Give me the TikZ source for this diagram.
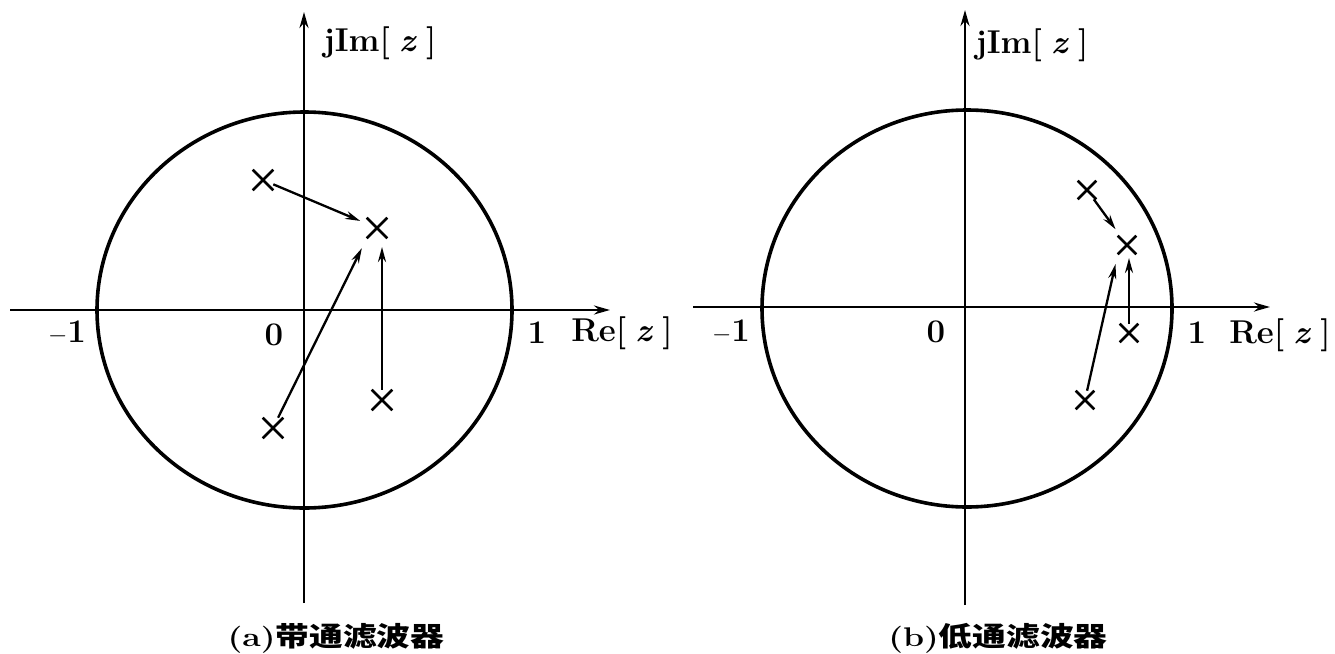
\documentclass[tikz,border=0pt]{standalone}
\usepackage{fontspec}
\newfontfamily\cjk{Noto Sans CJK SC}
\usetikzlibrary{arrows.meta,shapes.misc}
\begin{document}
\begin{tikzpicture}[x=1pt,y=-1pt,
  axis/.style={line width=2.6pt,-{Stealth[length=16pt,width=9pt]}},
  unit/.style={line width=3.6pt},
  pole/.style={cross out,draw,line width=2.6pt,minimum size=18pt,inner sep=0pt},
  poleb/.style={pole,minimum size=16pt},
  mv/.style={line width=2.3pt,-{Stealth[length=15pt,width=8pt]}},
  lbl/.style={font=\fontsize{33}{35}\selectfont\bfseries,inner sep=0pt},
  captxt/.style={font=\fontsize{27}{30}\selectfont\bfseries,inner sep=0pt}]
\useasboundingbox (0,0) rectangle (1335,653);
\fill[white] (0,0) rectangle (1335,653);

% ---------- (a) band-pass ----------
\coordinate (aW) at (10,310);
\coordinate (aE) at (610,310);
\coordinate (aS) at (304,603);
\coordinate (aN) at (304,12);
\draw[axis] (aW) -- (aE);
\draw[axis] (aS) -- (aN);
\draw[unit] (304.5,310) ellipse [x radius=207.5, y radius=198];

\node[pole] (a1) at (263,180) {};
\node[pole] (a2) at (377,228) {};
\node[pole] (a3) at (382,400) {};
\node[pole] (a4) at (273,428) {};
\draw[mv,shorten >=7pt] (a1) -- (a2);
\draw[mv,shorten >=11pt] (a4) -- (a2.south west);
\draw[mv,shorten >=19pt] (a3) -- (a3 |- a2);

\node[lbl] (am1) at (67,333) {$-$1};
\node[lbl] (a0) at (274,335) {0};
\node[lbl] (ap1) at (537,333) {1};
\node[lbl] (are) at (622,333) {Re[\;\textit{z}\;]};
\node[lbl] (aim) at (380,43) {jIm[\;\textit{z}\;]};
\node[captxt] (acap) at (336,638) {\scalebox{1.25}[1]{(a)\cjk 带通滤波器}};

% ---------- (b) low-pass ----------
\coordinate (bW) at (693,307);
\coordinate (bE) at (1270,307);
\coordinate (bS) at (965,605);
\coordinate (bN) at (965,10);
\draw[axis] (bW) -- (bE);
\draw[axis] (bS) -- (bN);
\draw[unit] (967,308.5) ellipse [x radius=205, y radius=198.5];

\node[poleb] (b1) at (1087,190) {};
\node[poleb] (b2) at (1127,245) {};
\node[poleb] (b3) at (1129,333) {};
\node[poleb] (b4) at (1085,400) {};
\draw[mv,shorten >=8pt] (b1) -- (b2);
\draw[mv,shorten >=10pt] (b4) -- (b2.south west);
\draw[mv,shorten >=13pt] (b3) -- (b3 |- b2);

\node[lbl] (bm1) at (731,332) {$-$1};
\node[lbl] (b0) at (936,332) {0};
\node[lbl] (bp1) at (1197,333) {1};
\node[lbl] (bre) at (1280,335) {Re[\;\textit{z}\;]};
\node[lbl] (bim) at (1032,45) {jIm[\;\textit{z}\;]};
\node[captxt] (bcap) at (998,638) {\scalebox{1.25}[1]{(b)\cjk 低通滤波器}};
\end{tikzpicture}
\end{document}
